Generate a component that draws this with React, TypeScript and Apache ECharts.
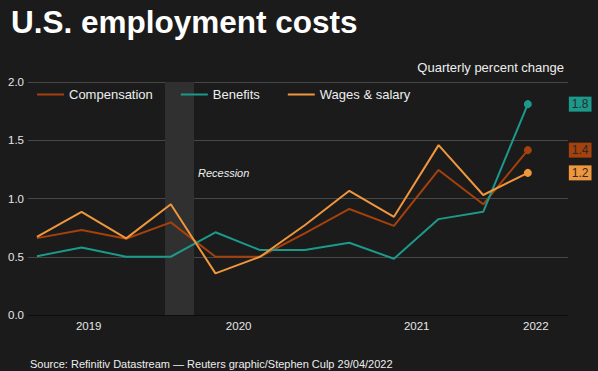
import React, { useEffect, useRef } from "react";
import * as echarts from "echarts";

const quarters = ["Q2 2019", "Q3 2019", "Q4 2019", "Q1 2020", "Q2 2020", "Q3 2020", "Q4 2020", "Q1 2021", "Q2 2021", "Q3 2021", "Q4 2021", "Q1 2022"];
const compensation = [0.66, 0.73, 0.655, 0.795, 0.5, 0.5, 0.7, 0.91, 0.765, 1.245, 0.95, 1.415];
const benefits = [0.505, 0.58, 0.5, 0.5, 0.71, 0.557, 0.557, 0.62, 0.483, 0.823, 0.886, 1.81];
const wages = [0.67, 0.886, 0.658, 0.95, 0.357, 0.5, 0.77, 1.066, 0.843, 1.458, 1.03, 1.22];
const yearLabels = ["2019", "2020", "2021", "2022"];
const yearTickPos = [1.16, 4.52, 8.51, 11.18];
const recession = [2.87, 3.52];
const yTicks = [0, 0.5, 1, 1.5, 2];

const COLORS = { comp: "#a4410c", ben: "#1b9a8c", wage: "#f0963c" };
const FONT = "Liberation Sans, Arial, sans-serif";

function App() {
  const ref = useRef<HTMLDivElement>(null);
  useEffect(() => {
    if (!ref.current) return;
    const chart = echarts.init(ref.current, null, { renderer: "svg" });
    const last = quarters.length - 1;
    const mk = (name: string, vals: number[], color: string, extra: any = {}) => ({
      name,
      type: "line",
      data: vals.map((v, i) => [i, v]),
      showSymbol: true,
      showAllSymbol: true,
      symbol: "circle",
      symbolSize: (_v: any, p: any) => (p.dataIndex === last ? 8 : 0),
      lineStyle: { color, width: 2 },
      itemStyle: { color },
      emphasis: { disabled: true },
      endLabel: {
        show: true,
        distance: 41,
        formatter: (p: any) => Number(p.value[1]).toFixed(1),
        backgroundColor: color,
        color: "#2a2a2a",
        fontSize: 12,
        fontFamily: FONT,
        padding: [1, 3, 0, 3],
        lineHeight: 14,
      },
      ...extra,
    });
    chart.setOption({
      animation: false,
      backgroundColor: "#1b1b1b",
      textStyle: { fontFamily: FONT },
      title: [
        {
          text: "U.S. employment costs",
          left: 6,
          top: 1,
          textStyle: { color: "#ffffff", fontSize: 31.5, fontWeight: "bold", fontFamily: FONT },
        },
        {
          text: "Quarterly percent change",
          right: 29,
          top: 56,
          textStyle: { color: "#eeeeee", fontSize: 13, fontWeight: "normal", fontFamily: FONT },
        },
        {
          text: "Source: Refinitiv Datastream \u2014 Reuters graphic/Stephen Culp 29/04/2022",
          left: 25,
          top: 353,
          textStyle: { color: "#eeeeee", fontSize: 11, fontWeight: "normal", fontFamily: FONT },
        },
      ],
      legend: {
        left: 37,
        top: 88,
        padding: 0,
        icon: "rect",
        itemWidth: 27,
        itemHeight: 2,
        itemGap: 28,
        textStyle: { color: "#eeeeee", fontSize: 13, padding: [0, 0, 0, 0] },
        data: ["Compensation", "Benefits", "Wages & salary"],
      },
      graphic: [
        {
          type: "text",
          left: 198,
          top: 167,
          style: { text: "Recession", fill: "#eeeeee", font: "italic 11px Liberation Sans, Arial, sans-serif" },
        },
      ],
      grid: { left: 28, right: 30, top: 82, bottom: 56 },
      xAxis: {
        type: "value",
        min: -0.2,
        max: 11.9,
        splitLine: { show: false },
        axisTick: { show: false },
        axisLine: { show: true, onZero: false, lineStyle: { color: "#0d0d0d", width: 1 } },
        axisLabel: {
          customValues: yearTickPos,
          color: "#e6e6e6",
          fontSize: 11.5,
          margin: 5,
          formatter: (v: number) => {
            let best = 0;
            yearTickPos.forEach((p, i) => {
              if (Math.abs(p - v) < Math.abs(yearTickPos[best] - v)) best = i;
            });
            return yearLabels[best];
          },
        },
      },
      yAxis: {
        type: "value",
        min: yTicks[0],
        max: yTicks[yTicks.length - 1],
        interval: 0.5,
        axisLine: { show: false },
        axisTick: { show: false },
        splitLine: { lineStyle: { color: "#474747", width: 1 } },
        axisLabel: { color: "#e6e6e6", fontSize: 11.5, margin: 4, formatter: (v: number) => v.toFixed(1) },
      },
      series: [
        mk("Compensation", compensation, COLORS.comp, {
          markArea: {
            silent: true,
            itemStyle: { color: "#303030" },
            data: [[{ xAxis: recession[0], yAxis: -0.02 }, { xAxis: recession[1], yAxis: 2.02 }]],
          },
          z: 2,
        }),
        mk("Benefits", benefits, COLORS.ben, { z: 3 }),
        mk("Wages & salary", wages, COLORS.wage, { z: 4 }),
      ],
    });
    return () => chart.dispose();
  }, []);
  return (
    <div
      ref={ref}
      style={{ position: "fixed", left: 0, top: 0, width: 598, height: 371, background: "#1b1b1b" }}
    />
  );
}

export default App;
